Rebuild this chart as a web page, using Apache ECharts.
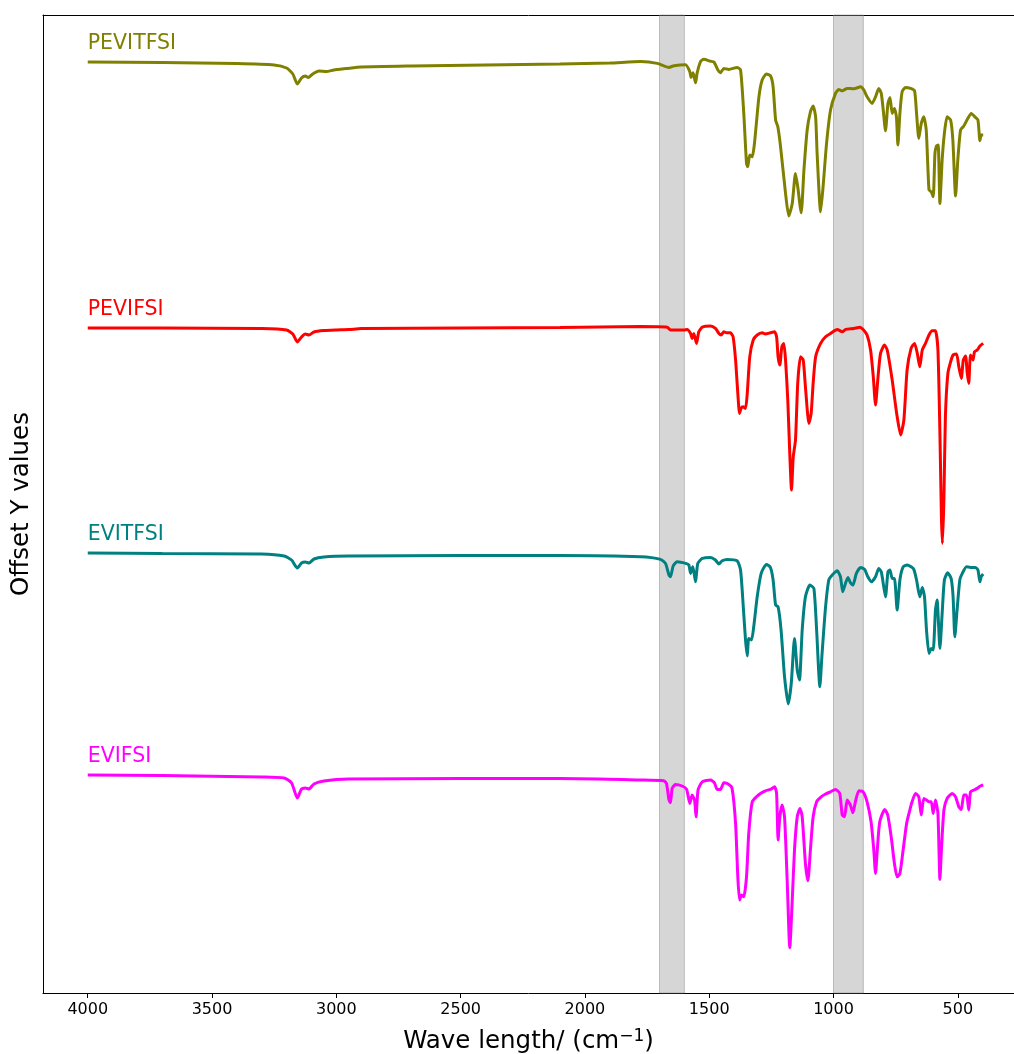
<!DOCTYPE html>
<html>
<head>
<meta charset="utf-8">
<script src="https://cdn.jsdelivr.net/npm/echarts@6/dist/echarts.min.js"></script>
<style>html,body{margin:0;padding:0;background:#fff}#chart{width:1014px;height:1054px}</style>
</head>
<body>
<div id="chart"></div>
<script>
// Tick labels on the (reversed) wavenumber axis
const xTicks = [500, 1000, 1500, 2000, 2500, 3000, 3500, 4000];
// Series names, colours and vertical offsets (offset Y values)
const seriesNames = ['PEVITFSI', 'PEVIFSI', 'EVITFSI', 'EVIFSI'];
const seriesColors = ['#808000', '#ff0000', '#008080', '#ff00ff'];
const offsets = [465.5, 332.5, 220, 109];
// Shaded wavenumber bands
const bands = [[1700, 1600], [1000, 880]];

// Spectra: [wavenumber, relative signal]
const pevitfsi = [[4000,0],[3700,-0.3],[3400,-0.8],[3250,-1.5],[3200,-3],[3175,-6],[3157,-11],[3140,-8],[3125,-7],[3113,-7.8],[3095,-6],[3070,-4.5],[3040,-4.8],[3010,-4],[2960,-3.3],[2900,-2.5],[2700,-2],[2400,-1.5],[2100,-1],[1900,-0.5],[1776,0.2],[1709,-0.7],[1662,-2.7],[1642,-1.9],[1595,-1.4],[1578,-4.9],[1573,-7.7],[1565,-5.4],[1555,-10.4],[1549,-5.7],[1535,0.2],[1522,1.4],[1495,0.4],[1481,0],[1465,-4],[1455,-5.4],[1441,-3.2],[1421,-3.7],[1388,-2.7],[1374,-4],[1361,-25.7],[1350,-50.7],[1345,-52.4],[1337,-46.5],[1327,-47.4],[1318,-40.7],[1300,-17.4],[1287,-9],[1270,-6],[1253,-7],[1243,-12.4],[1233,-29],[1224,-32.4],[1213,-42.4],[1193,-65.7],[1180,-77],[1166,-70.7],[1153,-55.7],[1144,-62.4],[1130,-75.4],[1119,-54],[1106,-34],[1093,-24.9],[1082,-22],[1072,-27.4],[1066,-45.7],[1052,-74.9],[1042,-62.4],[1028,-40.7],[1012,-24],[992,-15.7],[979,-13.7],[965,-14.4],[945,-13.2],[918,-13.4],[891,-12.4],[878,-14],[865,-17.4],[845,-20.7],[831,-17.4],[818,-13.2],[808,-15.7],[800,-24],[791,-34.4],[781,-20.7],[773,-17.7],[764,-25.7],[755,-23.2],[747,-27.4],[741,-41.5],[733,-25.7],[724,-14.9],[710,-12.7],[690,-13.2],[674,-14.4],[666,-25.7],[657,-38.2],[647,-30.7],[637,-27.4],[627,-34],[616,-64],[607,-64.9],[599,-67.4],[592,-45.7],[586,-42],[579,-41.5],[572,-70.7],[563,-49],[554,-35.7],[543,-27.4],[529,-29],[520,-39],[509,-67],[500,-49],[489,-34],[476,-32],[462,-28.7],[446,-25.7],[429,-27.7],[419,-29],[411,-39.4],[406,-36.5],[398,-36.5]];

const pevifsi = [[4000,0],[3700,0],[3300,-0.3],[3200,-1],[3175,-3],[3157,-7],[3140,-4.5],[3125,-3],[3110,-3.5],[3090,-2],[3050,-1.3],[3000,-1],[2950,-0.8],[2900,-0.3],[2500,0],[2100,0.3],[1776,0.7],[1669,0.4],[1656,-1],[1602,-1],[1589,-0.7],[1575,-2.7],[1569,-5.2],[1562,-2.7],[1551,-7.7],[1542,-1.9],[1528,0.4],[1495,1],[1475,-0.2],[1461,-2.7],[1452,-3.5],[1441,-1.9],[1431,-2.4],[1415,-2.4],[1404,-4.4],[1394,-16],[1385,-32.7],[1378,-42.7],[1372,-40.2],[1364,-39.4],[1354,-40.2],[1347,-32.7],[1337,-14.4],[1323,-6],[1307,-3.5],[1287,-2.4],[1274,-3],[1254,-2.4],[1237,-1.9],[1229,-4.4],[1223,-14.4],[1216,-18.5],[1208,-9.4],[1200,-7.7],[1193,-16],[1184,-36],[1176,-62.7],[1169,-81],[1162,-64.4],[1153,-56],[1144,-27.7],[1133,-14.4],[1122,-16],[1113,-29.4],[1099,-47.7],[1090,-42.7],[1082,-27.7],[1072,-14.4],[1052,-7.7],[1032,-4.4],[1012,-2.7],[985,-0.7],[965,-1.9],[951,-0.7],[918,-0.2],[894,0.4],[881,-0.7],[865,-3.5],[851,-11],[840,-24.4],[831,-38.5],[822,-26],[811,-12.7],[795,-8.5],[784,-11],[764,-26],[746,-42.7],[730,-53.5],[717,-46],[704,-21],[688,-10.2],[674,-7.7],[663,-12.7],[653,-19.4],[643,-11],[630,-7.7],[616,-3.5],[603,-1.4],[590,-1.4],[580,-11],[572,-52.7],[566,-94.4],[562,-107.7],[556,-86],[550,-44.4],[540,-22.7],[529,-16.9],[519,-13.5],[505,-13],[496,-19.4],[486,-25.2],[478,-16],[469,-14],[462,-22.7],[456,-27.7],[449,-13.5],[439,-16],[433,-11.9],[422,-11],[411,-9],[398,-7.7]];

const evitfsi = [[4000,0],[3700,-0.3],[3300,-0.5],[3210,-1.5],[3180,-3.5],[3157,-7.5],[3140,-5],[3125,-4.5],[3110,-5],[3090,-3],[3050,-2],[2950,-1.5],[2500,-1.3],[2100,-1.3],[1776,-1.9],[1696,-3.2],[1676,-5.2],[1662,-11],[1656,-11.9],[1645,-6.5],[1629,-4.4],[1595,-5.2],[1582,-6],[1575,-10.2],[1566,-6.9],[1555,-14.4],[1546,-5.2],[1528,-2.7],[1495,-2.2],[1475,-3.5],[1461,-5.5],[1448,-3.9],[1428,-3.2],[1388,-3.9],[1374,-8.5],[1363,-26.9],[1354,-43.5],[1347,-51.5],[1341,-42.7],[1330,-43.5],[1321,-36.9],[1307,-21.9],[1291,-10.2],[1270,-5.7],[1254,-7.2],[1243,-13.5],[1233,-26],[1223,-26.9],[1211,-38.5],[1197,-61.9],[1182,-75.5],[1170,-65.2],[1157,-42.7],[1146,-58.5],[1137,-63.5],[1126,-38.5],[1113,-21.9],[1095,-16],[1079,-17.7],[1068,-38.5],[1055,-66.9],[1046,-50.2],[1032,-26.9],[1019,-13.5],[1005,-11],[985,-8.9],[972,-11.9],[963,-19.4],[952,-15.2],[942,-12.2],[932,-14.9],[922,-16],[908,-10.2],[891,-7.2],[875,-8.2],[862,-11.9],[847,-14.4],[831,-11.9],[818,-7.7],[808,-9.4],[800,-15.2],[791,-21.9],[781,-9.4],[773,-8.5],[764,-12.7],[755,-12.7],[744,-28.5],[733,-13.5],[720,-6.9],[704,-6],[688,-6.9],[677,-8.2],[666,-13.5],[653,-21.9],[643,-17.2],[634,-21.9],[626,-38.5],[616,-50.2],[607,-47.7],[599,-48.5],[590,-28.5],[583,-23.5],[579,-31.9],[572,-47.7],[563,-30.2],[554,-13.5],[541,-9.9],[527,-12.7],[519,-21.9],[512,-41.9],[503,-28.5],[492,-13.5],[482,-10.2],[465,-6.9],[449,-7.2],[429,-7.2],[419,-8.5],[411,-14.4],[406,-11.9],[398,-10.5]];

const evifsi = [[4000,0],[3700,-0.3],[3300,-1],[3210,-1.5],[3180,-4],[3157,-11.5],[3140,-7],[3125,-6.5],[3110,-7],[3090,-4.5],[3050,-3],[2950,-2],[2500,-1.8],[2100,-1.8],[1776,-2.5],[1683,-2.9],[1672,-4.2],[1662,-12.5],[1656,-13.9],[1649,-6.7],[1636,-4.7],[1609,-5.5],[1591,-7.2],[1578,-14.2],[1569,-10],[1559,-12.5],[1553,-20.9],[1545,-7.5],[1528,-3.4],[1495,-2.5],[1479,-3.9],[1468,-7.2],[1455,-7.2],[1441,-3.9],[1421,-4.7],[1408,-6.7],[1394,-24.2],[1385,-50.9],[1378,-62.5],[1370,-60],[1361,-60.9],[1350,-50.9],[1341,-29.2],[1327,-13.4],[1310,-10.9],[1294,-9.2],[1274,-7.9],[1254,-7.2],[1237,-5.9],[1229,-9.2],[1223,-32.5],[1216,-20.9],[1207,-15],[1197,-20.9],[1186,-54.2],[1176,-86.4],[1166,-62.5],[1157,-37.5],[1146,-20.9],[1135,-16.7],[1126,-20.9],[1113,-44.2],[1103,-52.9],[1093,-37.5],[1082,-20.9],[1068,-13.4],[1052,-11.2],[1032,-9.5],[1012,-8.4],[992,-7.2],[975,-9.2],[965,-20],[956,-20.9],[945,-12.5],[932,-15],[922,-18.9],[912,-13.4],[898,-7.9],[881,-8.4],[865,-13.4],[849,-23.4],[838,-37.5],[831,-49.2],[824,-37.5],[814,-23.4],[794,-17.2],[782,-20],[768,-30.9],[755,-44.2],[744,-50.9],[733,-49.2],[720,-37.5],[706,-24.2],[693,-17.5],[684,-13.4],[670,-9.2],[657,-10.9],[647,-20],[637,-11.7],[626,-12.5],[616,-13.4],[607,-13.4],[599,-19.2],[590,-12.5],[580,-19.2],[572,-52.2],[566,-37.5],[556,-17.5],[543,-11.7],[523,-9.2],[509,-10.9],[496,-15.9],[486,-17.2],[476,-10],[465,-10],[456,-17.5],[449,-8.4],[435,-7.5],[422,-6.7],[409,-5.5],[398,-5]];

const spectra = [pevitfsi, pevifsi, evitfsi, evifsi];
const FONT = 'DejaVu Sans';

const chart = echarts.init(document.getElementById('chart'), null, {renderer: 'canvas'});

const lineSeries = spectra.map((s, i) => ({
  name: seriesNames[i],
  type: 'line',
  data: s.map(p => [p[0], p[1] + offsets[i]]),
  showSymbol: false,
  symbol: 'none',
  smooth: 0.2,
  lineStyle: {color: seriesColors[i], width: 3},
  itemStyle: {color: seriesColors[i]},
  z: 3,
  animation: false
}));

const bandSeries = {
  type: 'line',
  data: [],
  z: 1,
  silent: true,
  markArea: {
    silent: true,
    itemStyle: {color: 'rgba(128,128,128,0.32)', borderColor: 'rgba(128,128,128,0.45)', borderWidth: 1},
    data: bands.map(b => [{xAxis: b[0]}, {xAxis: b[1]}])
  },
  animation: false
};

chart.setOption({
  animation: false,
  backgroundColor: '#ffffff',
  grid: {left: 43, top: 15, right: 0, height: 978, show: false, containLabel: false, outerBoundsMode: 'none'},
  xAxis: [{
    type: 'value',
    inverse: true,
    min: 274,
    max: 4180,
    position: 'bottom',
    name: 'Wave length/ (cm{sup|−1})',
    nameLocation: 'middle',
    nameGap: 35,
    nameTextStyle: {fontFamily: FONT, fontSize: 24.5, color: '#000', rich: {sup: {fontFamily: FONT, fontSize: 17, color: '#000', verticalAlign: 'top', padding: [0, 0, 10, 0]}}},
    axisLine: {show: true, onZero: false, lineStyle: {color: '#000', width: 1}},
    axisTick: {show: true, inside: false, length: 5, lineStyle: {color: '#000'}, customValues: xTicks},
    axisLabel: {show: true, color: '#000', fontFamily: FONT, fontSize: 16, margin: 9, customValues: xTicks, formatter: v => String(v)},
    splitLine: {show: false}
  }, {
    type: 'value',
    inverse: true,
    min: 274,
    max: 4180,
    position: 'top',
    axisLine: {show: true, onZero: false, lineStyle: {color: '#000', width: 1}},
    axisTick: {show: false},
    axisLabel: {show: false},
    splitLine: {show: false}
  }],
  yAxis: {
    type: 'value',
    min: 0,
    max: 489,
    name: 'Offset Y values',
    nameLocation: 'middle',
    nameGap: 9,
    nameRotate: 90,
    nameTextStyle: {fontFamily: FONT, fontSize: 24.5, color: '#000'},
    axisLine: {show: true, onZero: false, lineStyle: {color: '#000', width: 1}},
    axisTick: {show: false},
    axisLabel: {show: false},
    splitLine: {show: false}
  },
  series: [bandSeries].concat(lineSeries)
});

const graphics = seriesNames.map((n, i) => {
  const p = chart.convertToPixel({xAxisIndex: 0, yAxisIndex: 0}, [4000, offsets[i]]);
  return {
    type: 'text',
    x: p[0],
    y: p[1] - 18,
    z: 10,
    style: {text: n, fill: seriesColors[i], font: '20.5px "' + FONT + '"', textAlign: 'left', textVerticalAlign: 'middle'}
  };
});
chart.setOption({graphic: graphics});
</script>
</body>
</html>
